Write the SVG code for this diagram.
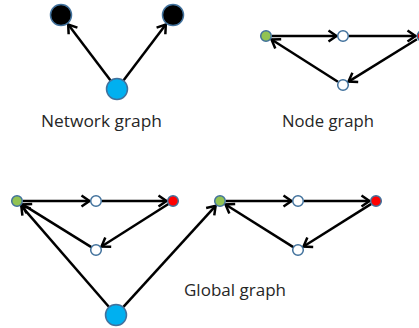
<svg xmlns="http://www.w3.org/2000/svg" width="419" height="328" viewBox="0 0 419 328">
<style>
.e{stroke:#000;stroke-width:2.5;fill:none;marker-end:url(#ah)}
.n{stroke:#41719C;stroke-width:1.5}
.w{fill:#fff}
.g{fill:#92C353}
.r{fill:#FF0000}
.b{fill:#00B0F0}
.k{fill:#000}
.t{font-family:"Open Sans","Liberation Sans",sans-serif;font-size:17px;fill:#262626;text-anchor:middle}
</style>
<defs>
<marker id="ah" markerUnits="userSpaceOnUse" markerWidth="20" markerHeight="20" viewBox="-10 -10 20 20" refX="0" refY="0" orient="auto">
<path d="M-8,-5.5 L0,0 L-8,5.5" fill="none" stroke="#000" stroke-width="2.5" stroke-linejoin="miter"/>
</marker>
</defs>
<g id="connectors">
<line class="e" x1="110.4" y1="80.2" x2="68.2" y2="24.6"/>
<line class="e" x1="123.6" y1="80.2" x2="165.8" y2="24.6"/>
<line class="e" x1="272" y1="36" x2="336.5" y2="36"/>
<line class="e" x1="349" y1="36" x2="415.5" y2="36"/>
<line class="e" x1="416.9" y1="39.2" x2="348.5" y2="81.6"/>
<line class="e" x1="337.9" y1="81.8" x2="271.5" y2="39.5"/>
<line class="e" x1="23" y1="201" x2="89.5" y2="201"/>
<line class="e" x1="102" y1="201" x2="166.5" y2="201"/>
<line class="e" x1="168.4" y1="204" x2="101.5" y2="246.5"/>
<line class="e" x1="91.3" y1="247.1" x2="22.5" y2="204.4"/>
<line class="e" x1="108.8" y1="306.7" x2="21.3" y2="205.9"/>
<line class="e" x1="123.4" y1="306.9" x2="215.6" y2="205.8"/>
<line class="e" x1="226" y1="201" x2="291.5" y2="201"/>
<line class="e" x1="304" y1="201" x2="369.5" y2="201"/>
<line class="e" x1="371.3" y1="203.9" x2="303.5" y2="246.5"/>
<line class="e" x1="293.3" y1="247.1" x2="225.5" y2="204.5"/>
</g>
<g id="net-black-left"><circle class="n k" cx="61" cy="15" r="10.5"/></g>
<g id="net-black-right"><circle class="n k" cx="173" cy="15" r="10.5"/></g>
<g id="net-blue"><circle class="n b" cx="117" cy="89" r="10.5"/></g>
<g id="node-green"><circle class="n g" cx="266" cy="36" r="5.3"/></g>
<g id="node-white-top"><circle class="n w" cx="343" cy="36" r="5.3"/></g>
<g id="node-red"><circle class="n r" cx="422.5" cy="36" r="5.3"/></g>
<g id="node-white-bottom"><circle class="n w" cx="343" cy="85" r="5.3"/></g>
<g id="gl-green"><circle class="n g" cx="17" cy="201" r="5.3"/></g>
<g id="gl-white-top"><circle class="n w" cx="96" cy="201" r="5.3"/></g>
<g id="gl-red"><circle class="n r" cx="173" cy="201" r="5.3"/></g>
<g id="gl-white-bottom"><circle class="n w" cx="96" cy="250" r="5.3"/></g>
<g id="gr-green"><circle class="n g" cx="220" cy="201" r="5.3"/></g>
<g id="gr-white-top"><circle class="n w" cx="298" cy="201" r="5.3"/></g>
<g id="gr-red"><circle class="n r" cx="376" cy="201" r="5.3"/></g>
<g id="gr-white-bottom"><circle class="n w" cx="298" cy="250" r="5.3"/></g>
<g id="global-blue"><circle class="n b" cx="116" cy="315" r="10.5"/></g>
<g id="labels">
<text class="t" x="101.5" y="127" textLength="121" lengthAdjust="spacingAndGlyphs">Network graph</text>
<text class="t" x="328" y="127" textLength="92" lengthAdjust="spacingAndGlyphs">Node graph</text>
<text class="t" x="235" y="296" textLength="102" lengthAdjust="spacingAndGlyphs">Global graph</text>
</g>
</svg>
